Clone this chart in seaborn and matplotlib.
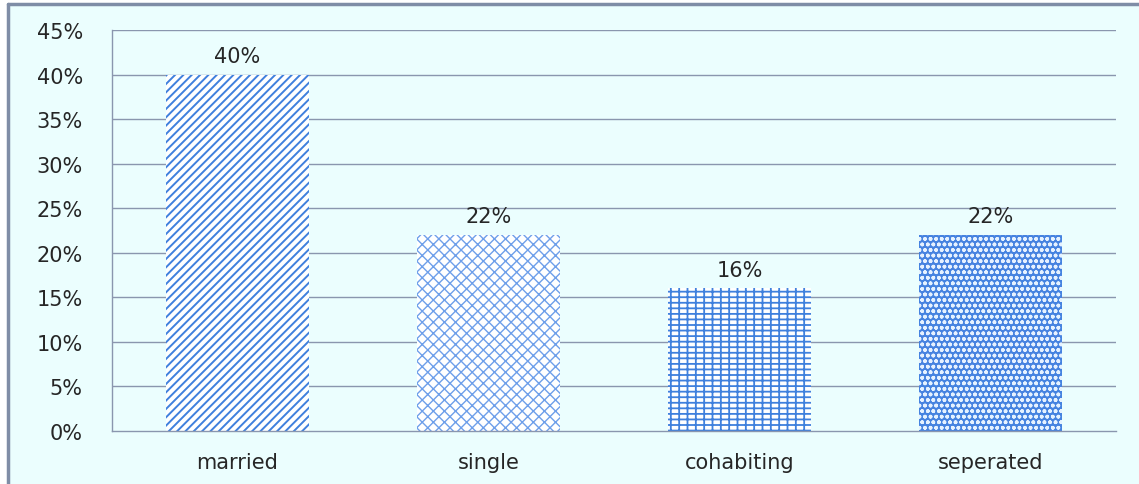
import matplotlib
matplotlib.use("Agg")
import matplotlib.pyplot as plt
import seaborn as sns
import pandas as pd
from matplotlib.patches import Rectangle

categories = ["married", "single", "cohabiting", "seperated"]
shares = [40, 22, 16, 22]
yticks = [0, 5, 10, 15, 20, 25, 30, 35, 40, 45]

# per-bar fill styles: (hatch, face colour, hatch colour, hatch width)
styles = [
    ("////", "white", "#3F80DD", 1.4),
    ("xxx", "white", "#6E9FEA", 1.0),
    ("---||", "white", "#3F80DD", 1.3),
    ("ooo", "#4683E0", "#E6F2FF", 1.1),
]

bg = "#EBFEFE"
grid = "#8A96AE"
txt = "#262626"

sns.set_theme(style="white")
plt.rcParams["font.family"] = ["DejaVu Sans"]

df = pd.DataFrame({"status": categories, "share": shares})

fig = plt.figure(figsize=(11.39, 4.85), dpi=100, facecolor="white")
# light panel with a grey frame on the left and top
fig.add_artist(Rectangle((8 / 1139, 0), 1, 1 - 5 / 485, transform=fig.transFigure,
                         facecolor=bg, edgecolor="none", zorder=0))
fig.add_artist(plt.Line2D([8 / 1139, 8 / 1139], [0, 1 - 5 / 485], transform=fig.transFigure,
                          color="#7F8DA6", linewidth=2.5, zorder=1))
fig.add_artist(plt.Line2D([8 / 1139, 1], [1 - 5 / 485, 1 - 5 / 485], transform=fig.transFigure,
                          color="#7F8DA6", linewidth=2.5, zorder=1))

ax = fig.add_axes([112 / 1139, 1 - 432 / 485, (1116 - 112) / 1139, (432 - 31) / 485])
ax.set_facecolor(bg)

sns.barplot(data=df, x="status", y="share", ax=ax, width=0.57,
            color="white", edgecolor="none", linewidth=0, zorder=2)

for patch, (h, face, hcol, hlw) in zip(ax.patches, styles):
    patch.set_facecolor(face)
    patch.set_edgecolor(hcol)
    patch.set_linewidth(0)
    patch.set_hatch(h)
    if hasattr(patch, "set_hatch_linewidth"):
        patch.set_hatch_linewidth(hlw)

ax.set_xlim(-0.5, len(categories) - 0.5)
ax.set_ylim(0, 45)
ax.set_yticks(yticks)
ax.set_yticklabels([f"{v}%" for v in yticks], fontsize=15, color=txt)
ax.tick_params(axis="x", labelsize=15, colors=txt, pad=15, length=0)
ax.tick_params(axis="y", pad=21, length=0)
ax.set_xlabel("")
ax.set_ylabel("")

for v in yticks[1:]:
    ax.axhline(v, color=grid, linewidth=1, zorder=1)

for s in ["top", "right"]:
    ax.spines[s].set_visible(False)
for s in ["left", "bottom"]:
    ax.spines[s].set_color(grid)
    ax.spines[s].set_linewidth(1)

for i, v in enumerate(shares):
    ax.text(i, v + 1.0, f"{v}%", ha="center", va="bottom", fontsize=15, color=txt)

fig.savefig("out.png", dpi=100, facecolor="white")
